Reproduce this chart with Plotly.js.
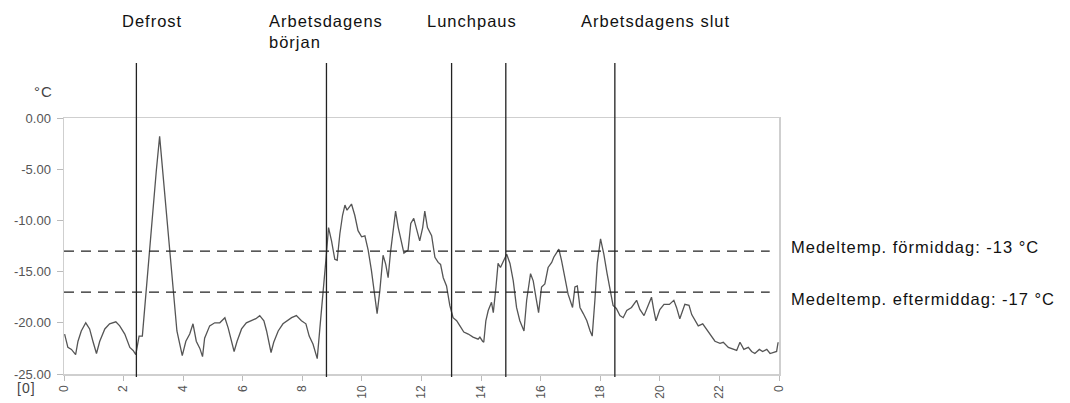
<!DOCTYPE html>
<html>
<head>
<meta charset="utf-8">
<script src="https://cdn.plot.ly/plotly-3.0.1.min.js"></script>
<style>
html,body{margin:0;padding:0;background:#fff;}
#chart{width:1070px;height:403px;}
.annotation-text{letter-spacing:1px;}
</style>
</head>
<body>
<div id="chart"></div>
<script>
// Hour of day (0-24)
const hours = [0.02,0.13,0.25,0.39,0.47,0.58,0.73,0.86,0.97,1.09,1.20,1.37,1.53,1.74,1.87,2.04,2.21,2.32,2.41,2.52,2.63,2.74,2.85,2.99,3.10,3.21,3.32,3.44,3.57,3.68,3.79,3.97,4.09,4.22,4.33,4.44,4.56,4.65,4.72,4.89,5.06,5.23,5.40,5.51,5.62,5.71,5.81,5.96,6.12,6.29,6.44,6.57,6.71,6.80,6.88,6.95,7.04,7.19,7.35,7.49,7.64,7.80,7.97,8.12,8.23,8.36,8.50,8.59,8.70,8.79,8.88,8.98,9.09,9.17,9.26,9.35,9.43,9.50,9.65,9.76,9.87,9.99,10.10,10.21,10.32,10.43,10.51,10.60,10.71,10.80,10.88,10.96,11.05,11.13,11.22,11.33,11.41,11.55,11.64,11.74,11.83,11.94,12.04,12.11,12.20,12.34,12.45,12.56,12.64,12.73,12.84,12.95,13.06,13.18,13.29,13.42,13.57,13.73,13.90,13.96,14.05,14.09,14.16,14.24,14.35,14.41,14.50,14.57,14.65,14.74,14.86,14.97,15.08,15.19,15.30,15.44,15.53,15.66,15.75,15.84,15.93,16.03,16.14,16.25,16.37,16.44,16.53,16.61,16.70,16.81,16.92,17.07,17.15,17.23,17.32,17.43,17.55,17.66,17.73,17.82,17.90,18.01,18.12,18.23,18.35,18.43,18.54,18.66,18.77,18.89,19.05,19.22,19.33,19.47,19.58,19.72,19.80,19.87,20.00,20.14,20.32,20.47,20.56,20.67,20.84,20.98,21.07,21.18,21.29,21.44,21.60,21.74,21.85,22.02,22.13,22.30,22.46,22.58,22.69,22.82,22.97,23.08,23.19,23.34,23.45,23.59,23.70,23.83,23.92,23.97];
// Temperature (°C)
const temps = [-21.1,-22.4,-22.6,-23.1,-21.8,-20.8,-20.0,-20.6,-21.8,-23.0,-21.8,-20.6,-20.1,-19.9,-20.3,-21.1,-22.4,-22.7,-23.1,-21.3,-21.3,-17.5,-12.9,-8.7,-5.1,-1.8,-5.4,-9.7,-13.3,-17.2,-20.8,-23.2,-21.8,-21.1,-20.1,-21.8,-22.5,-23.3,-21.5,-20.3,-20.0,-20.0,-19.5,-20.5,-21.8,-22.8,-21.8,-20.6,-20.0,-19.8,-19.6,-19.3,-19.8,-20.8,-22.1,-22.9,-21.9,-20.8,-20.1,-19.8,-19.5,-19.3,-19.8,-20.1,-21.3,-22.1,-23.5,-20.5,-17.2,-13.9,-10.7,-12.0,-13.8,-13.9,-11.3,-9.5,-8.5,-9.0,-8.4,-9.5,-11.0,-11.6,-11.5,-12.9,-14.9,-17.2,-19.1,-16.9,-13.4,-14.3,-15.6,-13.1,-11.0,-9.1,-10.7,-12.0,-13.2,-12.9,-10.3,-9.8,-10.8,-12.0,-10.7,-9.1,-10.7,-11.5,-13.6,-14.1,-14.3,-15.6,-16.4,-18.3,-19.5,-19.8,-20.3,-20.9,-21.1,-21.4,-21.6,-21.4,-21.8,-21.9,-19.8,-18.8,-18.0,-19.0,-16.5,-14.2,-14.6,-14.1,-13.3,-14.2,-15.9,-18.5,-19.8,-20.8,-17.8,-15.2,-15.9,-17.5,-19.0,-16.5,-16.2,-14.6,-14.1,-13.6,-13.1,-12.8,-13.9,-15.4,-17.2,-18.5,-16.5,-16.4,-18.5,-19.1,-19.8,-20.8,-21.3,-17.8,-14.2,-11.8,-13.3,-15.2,-17.2,-18.3,-18.6,-19.3,-19.5,-18.8,-18.5,-17.8,-18.7,-19.3,-18.5,-17.5,-18.8,-19.8,-18.7,-18.2,-18.2,-17.8,-18.5,-19.6,-18.2,-18.3,-19.2,-19.8,-20.3,-20.1,-20.8,-21.4,-21.8,-22.0,-21.9,-22.4,-22.6,-22.7,-21.9,-22.6,-22.4,-22.8,-23.0,-22.6,-22.8,-22.6,-23.0,-22.9,-22.8,-21.9];

// Event times (vertical markers)
const eventHours = [2.43, 8.81, 13.01, 14.83, 18.49];
const eventLabels = ['Defrost', 'Arbetsdagens<br>början', 'Lunchpaus', 'Arbetsdagens slut'];

// Mean temperatures
const meanValues = [-13, -17];
const meanLabels = ['Medeltemp. förmiddag: -13 °C', 'Medeltemp. eftermiddag: -17 °C'];

// Axis ticks
const xTickVals = [0,2,4,6,8,10,12,14,16,18,20,22,24];
const xTickText = ['0','2','4','6','8','10','12','14','16','18','20','22','0'];
const yTickVals = [0,-5,-10,-15,-20,-25];
const yTickText = ['0.00','-5.00','-10.00','-15.00','-20.00','-25.00'];

const FONT = 'Liberation Sans, Arial, sans-serif';

const shapes = [];
eventHours.forEach(h => shapes.push({
  type: 'line', xref: 'x', yref: 'paper', x0: h, x1: h, y0: -0.012, y1: 1.215,
  line: {color: '#222', width: 1.3}
}));
meanValues.forEach(v => shapes.push({
  type: 'line', xref: 'paper', yref: 'y', x0: 0, x1: 0.987, y0: v, y1: v,
  line: {color: '#222', width: 1.3, dash: '10px,7px'}
}));

const labelPos = [
  {x: 0.079, y: 1.422},
  {x: 0.284, y: 1.422},
  {x: 0.505, y: 1.422},
  {x: 0.72, y: 1.422}
];
const annotations = eventLabels.map((t, i) => ({
  text: t, xref: 'paper', yref: 'paper', x: labelPos[i].x, y: labelPos[i].y,
  xanchor: 'left', yanchor: 'top', align: 'left', showarrow: false,
  font: {family: FONT, size: 16.5, color: '#111'}
}));
const meanShift = [4, -7];
meanLabels.forEach((t, i) => annotations.push({
  text: t, xref: 'paper', yref: 'y', x: 1.014, y: meanValues[i], yshift: meanShift[i],
  xanchor: 'left', yanchor: 'middle', showarrow: false,
  font: {family: FONT, size: 16.5, color: '#111'}
}));
annotations.push({
  text: '°C', xref: 'paper', yref: 'paper', x: -0.028, y: 1.105,
  xanchor: 'center', yanchor: 'middle', showarrow: false,
  font: {family: FONT, size: 15, color: '#444'}
});
annotations.push({
  text: '[0]', xref: 'paper', yref: 'paper', x: -0.052, y: -0.055,
  xanchor: 'center', yanchor: 'middle', showarrow: false,
  font: {family: FONT, size: 14, color: '#444'}
});

const trace = {
  x: hours, y: temps, type: 'scatter', mode: 'lines',
  line: {color: '#555', width: 1.3}, hoverinfo: 'skip'
};

const layout = {
  width: 1070, height: 403,
  margin: {l: 64, r: 291, t: 118, b: 29, pad: 0},
  paper_bgcolor: '#fff', plot_bgcolor: '#fff',
  showlegend: false,
  xaxis: {
    range: [0, 24], tickvals: xTickVals, ticktext: xTickText, tickangle: -90,
    ticks: 'outside', ticklen: 5, tickcolor: '#bbb', tickwidth: 1,
    showgrid: false, zeroline: false, showline: true, mirror: true,
    linecolor: '#cfcfcf', linewidth: 1.5,
    tickfont: {family: FONT, size: 12, color: '#555'}, automargin: false
  },
  yaxis: {
    range: [-25, 0], tickvals: yTickVals, ticktext: yTickText,
    ticks: 'outside', ticklen: 6, tickcolor: '#bbb', tickwidth: 1,
    ticklabelstandoff: 3,
    showgrid: false, zeroline: false, showline: true, mirror: true,
    linecolor: '#cfcfcf', linewidth: 1.5,
    tickfont: {family: FONT, size: 13, color: '#555'}, automargin: false
  },
  shapes: shapes,
  annotations: annotations
};

Plotly.newPlot('chart', [trace], layout, {staticPlot: true, displayModeBar: false});
</script>
</body>
</html>
